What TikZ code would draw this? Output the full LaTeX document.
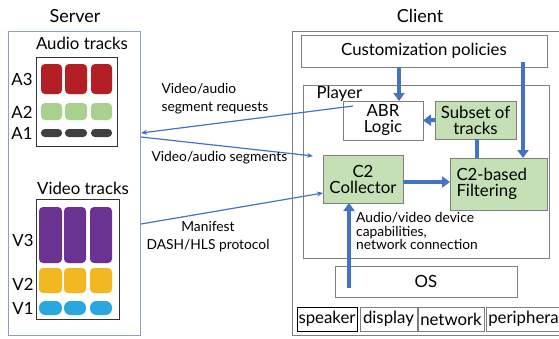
\documentclass[tikz,border=0pt]{standalone}
\usepackage{fontspec}
\setmainfont{Lato}
\usetikzlibrary{arrows.meta}
\definecolor{arrowblue}{HTML}{4472C4}
\definecolor{boxgreen}{HTML}{C5E0B4}
\definecolor{agreen}{HTML}{A9D18E}
\definecolor{ared}{HTML}{B31F24}
\definecolor{agray}{HTML}{404040}
\definecolor{vpurple}{HTML}{6B3391}
\definecolor{vyellow}{HTML}{F2B822}
\definecolor{vblue}{HTML}{2AA8DE}
\definecolor{edgegray}{HTML}{7F7F7F}
\tikzset{
  bigtext/.style={font=\fontsize{16.8}{17}\selectfont},
  title/.style={font=\fontsize{18}{19}\selectfont},
  smalltext/.style={font=\fontsize{13.8}{18}\selectfont, align=left},
  tighttext/.style={font=\fontsize{13.8}{13.8}\selectfont, align=left},
  plainbox/.style={draw=edgegray, line width=0.8pt, fill=white, inner sep=0pt, outer sep=0pt},
  greenbox/.style={draw=edgegray, line width=0.8pt, fill=boxgreen, inner sep=0pt, outer sep=0pt},
  thick arrow/.style={draw=arrowblue, line width=4pt, -{Triangle[width=11pt,length=8pt]}},
  thick link/.style={draw=arrowblue, line width=4pt},
  thin arrow/.style={draw=arrowblue, line width=1.2pt, -{Stealth[length=6pt,width=5pt]}},
  blk/.style={rounded corners=4pt, draw=none},
}
\begin{document}
\begin{tikzpicture}[x=1pt,y=-1pt]
\useasboundingbox (0,0) rectangle (559,338);
\clip (0,0) rectangle (559,338);
\fill[white] (0,0) rectangle (559,338);

% ---------- Server ----------
\node[title] (servertitle) at (75,16) {Server};
\draw[draw=arrowblue!60!gray!70, line width=0.9pt] (8,31) rectangle (140,335);
\node[bigtext] (audiolabel) at (82,43) {Audio tracks};
\draw[line width=1pt, draw=black!80] (36,57) rectangle (117,146);
\foreach \xa/\xb in {41/62, 65/87, 91/112}{
  \fill[ared, blk] (\xa,64) rectangle (\xb,94);
  \fill[agreen, blk] (\xa,103) rectangle (\xb,120);
  \fill[agray, rounded corners=3.8pt] (\xa,129) rectangle (\xb,137);
}
\node[bigtext] (A3) at (22,79) {A3};
\node[bigtext] (A2) at (22,112) {A2};
\node[bigtext] (A1) at (22,133) {A1};

\node[bigtext] (videolabel) at (83,188) {Video tracks};
\draw[line width=1pt, draw=black!80] (36,199) rectangle (119,319);
\foreach \xa/\xb in {39/62, 64/86, 90/112}{
  \fill[vpurple, blk] (\xa,207) rectangle (\xb,263);
  \fill[vyellow, blk] (\xa,268) rectangle (\xb,293);
  \fill[vblue, rounded corners=6.5pt] (\xa,301) rectangle (\xb,315);
}
\node[bigtext] (V3) at (23,240) {V3};
\node[bigtext] (V2) at (23,284) {V2};
\node[bigtext] (V1) at (23,308) {V1};

% ---------- Client ----------
\node[title] (clienttitle) at (420,16) {Client};
\draw[draw=edgegray, line width=0.9pt] (292,31) rectangle (600,335);
\node[plainbox, bigtext, minimum width=246pt, minimum height=32pt] (policies) at (424,51) {Customization policies};
\draw[draw=edgegray, line width=0.9pt] (303,85) rectangle (549,258);
\node[bigtext, anchor=west] (player) at (313,94) {Player};
\node[plainbox, bigtext, align=center, minimum width=80pt, minimum height=39pt] (abr) at (383,120.5) {ABR\\[-1pt]Logic};
\node[greenbox, bigtext, align=center, minimum width=81pt, minimum height=38pt] (subset) at (475.5,120) {Subset of\\[-1pt]tracks};
\node[greenbox, bigtext, align=center, minimum width=80pt, minimum height=48pt] (collector) at (363,179) {C2\\[-1pt]Collector};
\node[greenbox, bigtext, align=left, minimum width=97pt, minimum height=52pt, text width=84pt] (filtering) at (498.5,184) {C2-based\\[-1pt]Filtering};
\node[plainbox, bigtext, minimum width=182pt, minimum height=31pt] (os) at (426,281.5) {OS};
\node[tighttext, anchor=north west, inner sep=0pt] (caps) at (356,212) {Audio/video device\\capabilities,\\network connection};

\node[draw=black, line width=0.9pt, bigtext, minimum width=60pt, minimum height=24pt, inner sep=0pt] (speaker) at (327,319) {speaker};
\node[draw=edgegray, line width=0.9pt, bigtext, minimum width=57pt, minimum height=24pt, inner sep=0pt] (display) at (388.5,319) {display};
\node[draw=edgegray, line width=0.9pt, bigtext, minimum width=66pt, minimum height=24pt, inner sep=0pt] (network) at (451,319) {network};
\node[draw=edgegray, line width=0.9pt, bigtext, minimum width=84pt, minimum height=24pt, inner sep=0pt, anchor=west] (peripheral) at (486,319) {\hspace*{-6pt}peripheral};

% ---------- Thick connectors ----------
\coordinate (polA) at (399,67);
\coordinate (polB) at (523,62);
\coordinate (osup) at (349,288);
\draw[thick arrow] (polA) -- (polA |- abr.north);
\draw[thick arrow] (polB) -- (polB |- filtering.north);
\draw[thick arrow] (subset.west) -- (abr.east);
\draw[thick link] (subset.south -| 477,0) -- (477,158);
\draw[thick arrow] (collector.east |- 0,182) -- (filtering.west |- 0,182);
\draw[thick arrow] (osup) -- (osup |- collector.south);

% ---------- Thin connectors ----------
\coordinate (reqstart) at (353,106);
\coordinate (reqend) at (141,133);
\coordinate (segstart) at (141,137);
\coordinate (segend) at (313,156);
\coordinate (manstart) at (141,224);
\draw[thin arrow] (reqstart) -- (reqend);
\draw[thin arrow] (segstart) -- (segend);
\draw[thin arrow] (manstart) -- (collector.west |- 0,193);

\node[smalltext, anchor=west] (reqlabel) at (158,99) {Video/audio\\segment requests};
\node[smalltext, anchor=west] (seglabel) at (148,158) {Video/audio segments};
\node[smalltext, anchor=west, align=center] (manlabel) at (143,237) {Manifest\\DASH/HLS protocol};
\end{tikzpicture}
\end{document}
